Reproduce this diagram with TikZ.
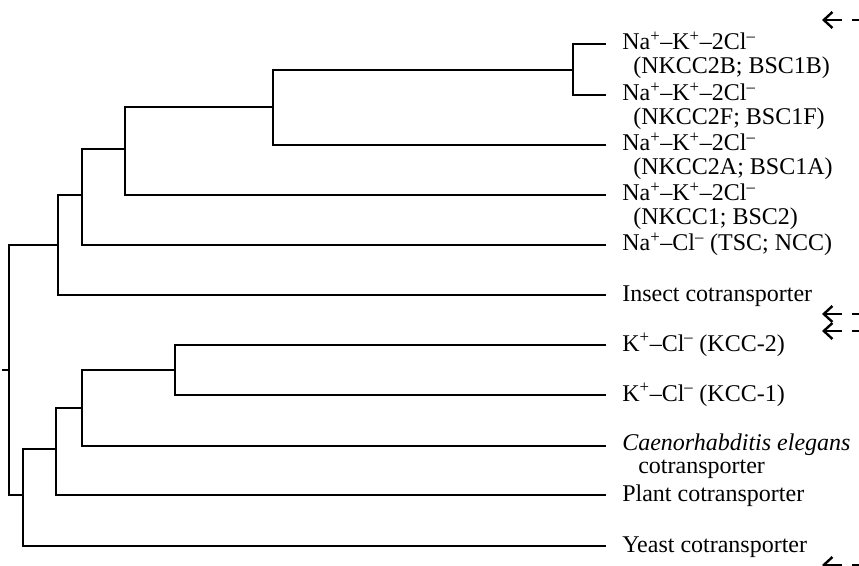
\documentclass[tikz,border=0pt]{standalone}
\usepackage{fontspec}
\setmainfont{Liberation Serif}
\usetikzlibrary{arrows.meta}
% ion formula used by the Na-K-2Cl cotransporter labels
\newcommand\nkccion{Na\textsuperscript{+}–K\textsuperscript{+}–2Cl\textsuperscript{–}}
\begin{document}
\begin{tikzpicture}[x=0.75pt,y=-0.75pt,
  branch/.style={line width=1.7pt},
  lab/.style={anchor=base west,inner sep=0pt,font=\fontsize{18}{22}\selectfont},
  cue/.style={line width=2.1pt,dash pattern=on 12.75pt off 7.5pt,
    arrows={Straight Barb[length=6.5pt,width=12pt,line width=1.8pt]-}}]
\useasboundingbox (0,0) rectangle (859,566);

% leaf ends
\coordinate (t1) at (606,44);
\coordinate (t2) at (606,95);
\coordinate (t3) at (606,145);
\coordinate (t4) at (606,195);
\coordinate (t5) at (606,245);
\coordinate (t6) at (606,295);
\coordinate (t7) at (606,345);
\coordinate (t8) at (606,395);
\coordinate (t9) at (606,446);
\coordinate (t10) at (606,495);
\coordinate (t11) at (606,546);

% internal branch points
\coordinate (a) at (573,70);
\coordinate (b) at (273,107);
\coordinate (c) at (125,149);
\coordinate (d) at (82,195);
\coordinate (e) at (58,245);
\coordinate (f) at (175,370);
\coordinate (g) at (82,408);
\coordinate (h) at (56,449);
\coordinate (i) at (23,495);
\coordinate (root) at (9,370);
\coordinate (stub) at (2,370);

% tree
\draw[branch] (a) |- (t1);
\draw[branch] (a) |- (t2);
\draw[branch] (b) |- (a);
\draw[branch] (b) |- (t3);
\draw[branch] (c) |- (b);
\draw[branch] (c) |- (t4);
\draw[branch] (d) |- (c);
\draw[branch] (d) |- (t5);
\draw[branch] (e) |- (d);
\draw[branch] (e) |- (t6);
\draw[branch] (f) |- (t7);
\draw[branch] (f) |- (t8);
\draw[branch] (g) |- (f);
\draw[branch] (g) |- (t9);
\draw[branch] (h) |- (g);
\draw[branch] (h) |- (t10);
\draw[branch] (i) |- (h);
\draw[branch] (i) |- (t11);
\draw[branch] (root) |- (e);
\draw[branch] (root) |- (i);
\draw[branch] (stub) -- (root);

% leaf labels
\node[lab] (l1) at (622,50) {\nkccion};
\node[lab] (l1b) at (633,73.5) {(NKCC2B; BSC1B)};
\node[lab] (l2) at (622,101) {\nkccion};
\node[lab] (l2b) at (633,124.5) {(NKCC2F; BSC1F)};
\node[lab] (l3) at (622,151) {\nkccion};
\node[lab] (l3b) at (633,174.5) {(NKCC2A; BSC1A)};
\node[lab] (l4) at (622,201) {\nkccion};
\node[lab] (l4b) at (633,224.5) {(NKCC1; BSC2)};
\node[lab] (l5) at (622,251) {Na\textsuperscript{+}–Cl\textsuperscript{–} (TSC; NCC)};
\node[lab] (l6) at (622,301) {Insect cotransporter};
\node[lab] (l7) at (622,351) {K\textsuperscript{+}–Cl\textsuperscript{–} (KCC-2)};
\node[lab] (l8) at (622,401) {K\textsuperscript{+}–Cl\textsuperscript{–} (KCC-1)};
\node[lab] (l9) at (622,450) {\itshape Caenorhabditis elegans};
\node[lab] (l9b) at (638,473.5) {cotransporter};
\node[lab] (l10) at (622,501) {Plant cotransporter};
\node[lab] (l11) at (622,552) {Yeast cotransporter};

% pointer arrows running in from the right edge
\begin{scope}
\clip (0,0) rectangle (859,566);
\coordinate (p1) at (822,20);   \coordinate (q1) at (900,20);
\coordinate (p2) at (822,314);  \coordinate (q2) at (900,314);
\coordinate (p3) at (822,331);  \coordinate (q3) at (900,331);
\coordinate (p4) at (822,565);  \coordinate (q4) at (900,565);
\draw[cue] (p1) -- (q1);
\draw[cue] (p2) -- (q2);
\draw[cue] (p3) -- (q3);
\draw[cue] (p4) -- (q4);
\end{scope}
\end{tikzpicture}
\end{document}
